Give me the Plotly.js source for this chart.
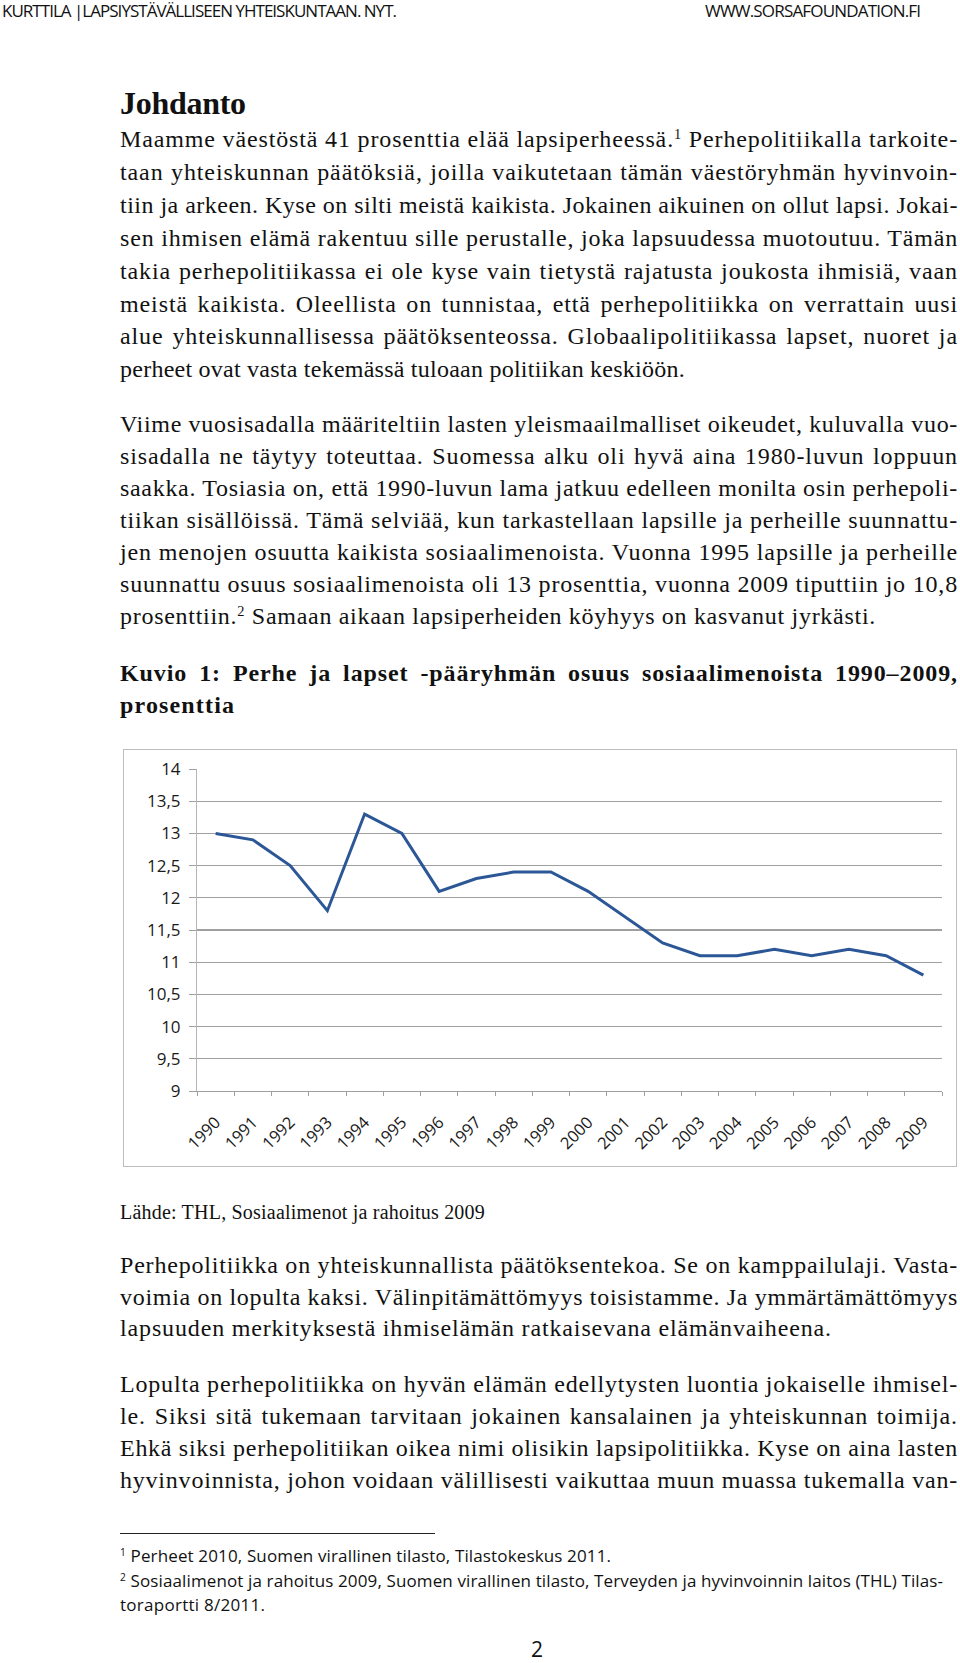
<!DOCTYPE html>
<html>
<head>
<meta charset="utf-8">
<script src="https://cdn.plot.ly/plotly-3.0.1.min.js"></script>
<style>
  html, body { margin:0; padding:0; background:#fff; }
  body { width:960px; height:1663px; position:relative; overflow:hidden; color:#111; }
  .ln { position:absolute; left:120px; white-space:nowrap; height:32px; line-height:32px; }
  .body { font-family:"Liberation Serif", serif; font-size:24px; }
  .bold { font-weight:bold; }
  .sans { font-family:"Liberation Sans Narrow", "Open Sans", sans-serif; }
  sup { font-size:0.6em; vertical-align:0.55em; line-height:0; }
  #chart { position:absolute; left:123px; top:749px; width:832px; height:416px; border:1px solid #bdbdbd; }
  #rule { position:absolute; left:120px; top:1533px; width:315px; height:0; border-top:1.5px solid #222; }
</style>
</head>
<body>
<!-- header -->
<div class="ln sans fit" data-x0="2" data-x1="397" style="left:2px; top:-5px; font-size:17px;">KURTTILA |LAPSIYSTÄVÄLLISEEN YHTEISKUNTAAN. NYT.</div>
<div class="ln sans fit" data-x0="705" data-x1="921" style="left:705px; top:-5px; font-size:17px;">WWW.SORSAFOUNDATION.FI</div>

<div class="ln body bold fit" data-x0="120" data-x1="246" style="top:87px; font-size:32px;">Johdanto</div>

<div class="ln body fit" data-x1="958" style="top:123px;">Maamme väestöstä 41 prosenttia elää lapsiperheessä.<sup>1</sup> Perhepolitiikalla tarkoite-</div>
<div class="ln body fit" data-x1="958" style="top:155.9px;">taan yhteiskunnan päätöksiä, joilla vaikutetaan tämän väestöryhmän hyvinvoin-</div>
<div class="ln body fit" data-x1="958" style="top:188.8px;">tiin ja arkeen. Kyse on silti meistä kaikista. Jokainen aikuinen on ollut lapsi. Jokai-</div>
<div class="ln body fit" data-x1="958" style="top:221.7px;">sen ihmisen elämä rakentuu sille perustalle, joka lapsuudessa muotoutuu. Tämän</div>
<div class="ln body fit" data-x1="958" style="top:254.6px;">takia perhepolitiikassa ei ole kyse vain tietystä rajatusta joukosta ihmisiä, vaan</div>
<div class="ln body fit" data-x1="958" style="top:287.5px;">meistä kaikista. Oleellista on tunnistaa, että perhepolitiikka on verrattain uusi</div>
<div class="ln body fit" data-x1="958" style="top:320.4px;">alue yhteiskunnallisessa päätöksenteossa. Globaalipolitiikassa lapset, nuoret ja</div>
<div class="ln body fit" data-x1="685" style="top:353.3px;">perheet ovat vasta tekemässä tuloaan politiikan keskiöön.</div>

<div class="ln body fit" data-x1="958" style="top:408px;">Viime vuosisadalla määriteltiin lasten yleismaailmalliset oikeudet, kuluvalla vuo-</div>
<div class="ln body fit" data-x1="958" style="top:440px;">sisadalla ne täytyy toteuttaa. Suomessa alku oli hyvä aina 1980-luvun loppuun</div>
<div class="ln body fit" data-x1="958" style="top:472px;">saakka. Tosiasia on, että 1990-luvun lama jatkuu edelleen monilta osin perhepoli-</div>
<div class="ln body fit" data-x1="958" style="top:504px;">tiikan sisällöissä. Tämä selviää, kun tarkastellaan lapsille ja perheille suunnattu-</div>
<div class="ln body fit" data-x1="958" style="top:536px;">jen menojen osuutta kaikista sosiaalimenoista. Vuonna 1995 lapsille ja perheille</div>
<div class="ln body fit" data-x1="958" style="top:568px;">suunnattu osuus sosiaalimenoista oli 13 prosenttia, vuonna 2009 tiputtiin jo 10,8</div>
<div class="ln body fit" data-x1="876" style="top:600px;">prosenttiin.<sup>2</sup> Samaan aikaan lapsiperheiden köyhyys on kasvanut jyrkästi.</div>

<div class="ln body bold fit" data-x1="958" style="top:657px;">Kuvio 1: Perhe ja lapset -pääryhmän osuus sosiaalimenoista 1990–2009,</div>
<div class="ln body bold fit" data-x1="234" style="top:689px;">prosenttia</div>

<div id="chart"></div>

<div class="ln body fit" data-x1="485" style="top:1196px; font-size:20px;">Lähde: THL, Sosiaalimenot ja rahoitus 2009</div>

<div class="ln body fit" data-x1="958" style="top:1249px;">Perhepolitiikka on yhteiskunnallista päätöksentekoa. Se on kamppailulaji. Vasta-</div>
<div class="ln body fit" data-x1="958" style="top:1280.5px;">voimia on lopulta kaksi. Välinpitämättömyys toisistamme. Ja ymmärtämättömyys</div>
<div class="ln body fit" data-x1="832" style="top:1312px;">lapsuuden merkityksestä ihmiselämän ratkaisevana elämänvaiheena.</div>

<div class="ln body fit" data-x1="958" style="top:1368px;">Lopulta perhepolitiikka on hyvän elämän edellytysten luontia jokaiselle ihmisel-</div>
<div class="ln body fit" data-x1="958" style="top:1400px;">le. Siksi sitä tukemaan tarvitaan jokainen kansalainen ja yhteiskunnan toimija.</div>
<div class="ln body fit" data-x1="958" style="top:1432px;">Ehkä siksi perhepolitiikan oikea nimi olisikin lapsipolitiikka. Kyse on aina lasten</div>
<div class="ln body fit" data-x1="958" style="top:1464px;">hyvinvoinnista, johon voidaan välillisesti vaikuttaa muun muassa tukemalla van-</div>

<div id="rule"></div>
<div class="ln sans fit" data-x1="611" style="top:1540px; font-size:17px;"><sup>1</sup> Perheet 2010, Suomen virallinen tilasto, Tilastokeskus 2011.</div>
<div class="ln sans fit" data-x1="943" style="top:1565px; font-size:17px;"><sup>2</sup> Sosiaalimenot ja rahoitus 2009, Suomen virallinen tilasto, Terveyden ja hyvinvoinnin laitos (THL) Tilas-</div>
<div class="ln sans fit" data-x1="265" style="top:1589px; font-size:17px;">toraportti 8/2011.</div>

<div class="sans" style="position:absolute; left:531px; top:1641px; font-size:21px; line-height:17px; height:17px;">2</div>

<script>
// ---- chart data ----
const years = ["1990","1991","1992","1993","1994","1995","1996","1997","1998","1999",
               "2000","2001","2002","2003","2004","2005","2006","2007","2008","2009"];
const familyShare = [13.0, 12.9, 12.5, 11.8, 13.3, 13.0, 12.1, 12.3, 12.4, 12.4,
                     12.1, 11.7, 11.3, 11.1, 11.1, 11.2, 11.1, 11.2, 11.1, 10.8];
const yTickValues = [9, 9.5, 10, 10.5, 11, 11.5, 12, 12.5, 13, 13.5, 14];

// ---- fit text lines to reference widths ----
document.querySelectorAll('.fit').forEach(el => {
  const x0 = parseFloat(el.dataset.x0 || 120);
  const x1 = parseFloat(el.dataset.x1);
  const span = document.createElement('span');
  while (el.firstChild) span.appendChild(el.firstChild);
  el.appendChild(span);
  const target = x1 - x0;
  const txt = span.textContent;
  const n = txt.length;
  const spaces = (txt.match(/ /g) || []).length;
  let w = span.getBoundingClientRect().width;
  if (spaces > 0 && el.classList.contains('body')) {
    let ls = (target - w) / (n - 1);
    ls = Math.max(-0.6, Math.min(ls, 0.9));
    el.style.letterSpacing = ls + 'px';
    w = span.getBoundingClientRect().width;
    el.style.wordSpacing = ((target - w) / spaces) + 'px';
  } else {
    el.style.letterSpacing = ((target - w) / Math.max(1, n - 1)) + 'px';
  }
});

const axisFont = { family: '"Open Sans", "Liberation Sans", sans-serif', size: 16.5, color: '#1a1a1a' };
const gridCol = '#a0a0a0';

Plotly.newPlot('chart', [{
  x: years,
  y: familyShare,
  type: 'scatter',
  mode: 'lines',
  line: { color: '#2c5797', width: 3 },
  hoverinfo: 'skip'
}], {
  width: 832, height: 416,
  margin: { l: 73, r: 14, t: 19, b: 75 },
  paper_bgcolor: '#ffffff', plot_bgcolor: '#ffffff',
  separators: ', ',
  showlegend: false,
  font: axisFont,
  xaxis: {
    type: 'category',
    range: [-0.5, 19.5],
    tickson: 'boundaries',
    ticks: 'outside', ticklen: 4, tickcolor: gridCol, tickwidth: 1,
    showline: true, linecolor: gridCol, linewidth: 1.3,
    showgrid: false, zeroline: false,
    tickangle: -45,
    ticklabelstandoff: 14,
    tickfont: axisFont
  },
  yaxis: {
    range: [9, 14],
    tickmode: 'array',
    tickvals: yTickValues,
    ticks: 'outside', ticklen: 7, tickcolor: gridCol, tickwidth: 1,
    showline: true, linecolor: '#b5b5b5', linewidth: 1,
    showgrid: true, gridcolor: gridCol, gridwidth: 1.3,
    zeroline: false,
    ticklabelstandoff: 5,
    tickfont: { family: axisFont.family, size: 17, color: '#1a1a1a' }
  }
}, { staticPlot: true, displayModeBar: false });
</script>
</body>
</html>
